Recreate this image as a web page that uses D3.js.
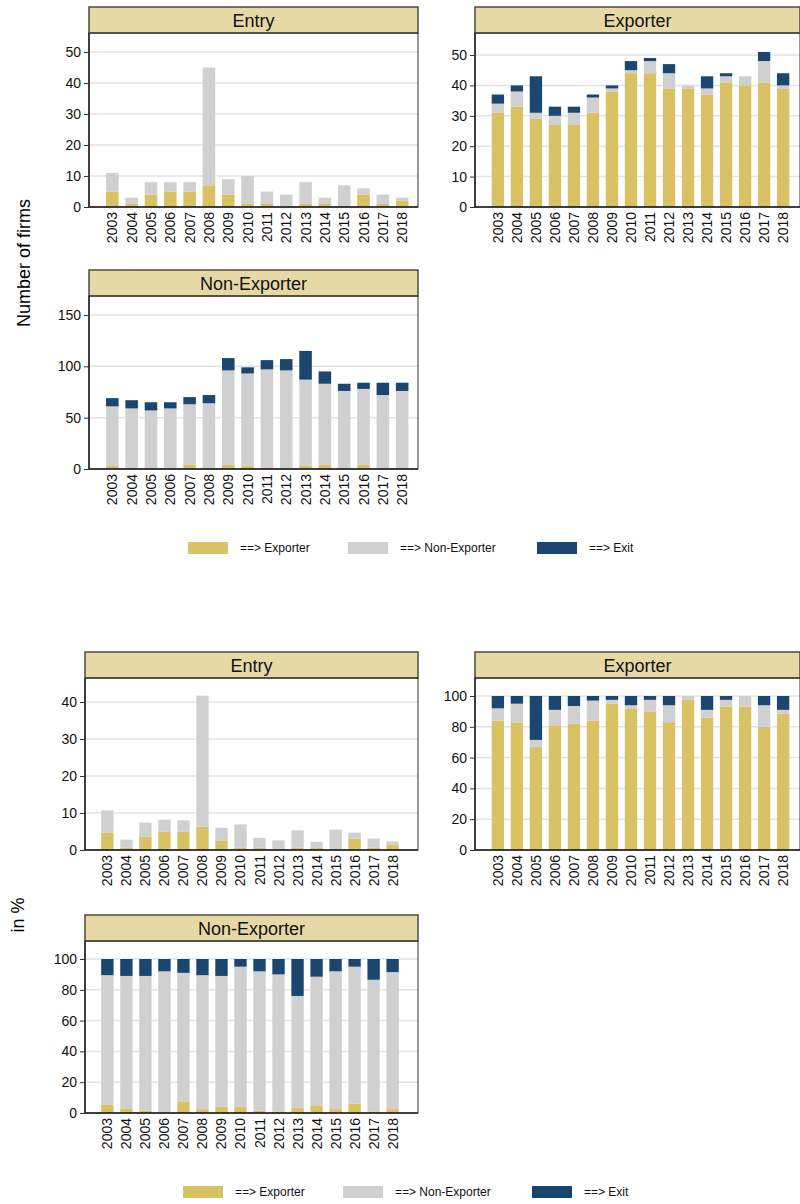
<!DOCTYPE html>
<html><head><meta charset="utf-8">
<script src="https://cdn.jsdelivr.net/npm/d3@7"></script>
<style>body{margin:0;background:#fff}svg{font-family:"Liberation Sans",Arial,sans-serif}</style>
</head><body><svg id="c" width="800" height="1204"></svg>
<script>
const years = d3.range(2003, 2019).map(String);
// Counts
const entryExp = [5,1,4,5,5,7,4,1,1,0,1,1,0,4,1,2];
const entryNon = [6,2,4,3,3,38,5,9,4,4,7,2,7,2,3,1];
const entryExit = new Array(16).fill(0);
const expExp = [31,33,29,27,27,31,38,44,44,39,39,37,41,40,41,39];
const expNon = [3,5,2,3,4,5,1,1,4,5,1,2,2,3,7,1];
const expExit = [3,2,12,3,2,1,1,3,1,3,0,4,1,0,3,4];
const nonExp = [3,1,0,0,4,1,4,3,1,0,3,4,1,4,0,1];
const nonNon = [58,58,57,59,59,63,92,90,96,96,84,79,75,74,72,75];
const nonExit = [8,8,8,6,7,8,12,6,9,11,28,12,7,6,12,8];
// Percent
const pEntryExp = [4.7,0.6,3.6,4.9,4.9,6.3,2.6,0.6,0.6,0,0.6,0.6,0,3.1,0.6,1.5];
const pEntryNon = [6.0,2.2,3.8,3.3,3.1,35.4,3.4,6.3,2.7,2.6,4.7,1.6,5.5,1.6,2.5,0.8];
const pEntryExit = new Array(16).fill(0);
const pExpExp = [84,82.5,67,81,82,84,95,92,90,83,97.5,86,93,93,80,88.5];
const pExpNon = [8,12.5,4.5,10,11.5,13,2.5,2,7.5,11,2.5,5,4.5,7,14,2.5];
const pExpExit = [8,5,28.5,9,6.5,3,2.5,6,2.5,6,0,9,2.5,0,6,9];
const pNonExp = [5.5,3,1.5,0,7.5,2.5,4,4,1.5,1,3.5,5,2.5,6,1,2.5];
const pNonNon = [84,86,87.5,92,83.5,87,85,91,90.5,89,72.5,83.5,89.5,89,85.5,89];
const pNonExit = [10.5,11,11,8,9,10.5,11,5,8,10,24,11.5,8,5,13.5,8.5];
const countTicks = {entry:[0,10,20,30,40,50], exp:[0,10,20,30,40,50], non:[0,50,100,150]};
const pctTicks = {entry:[0,10,20,30,40], exp:[0,20,40,60,80,100], non:[0,20,40,60,80,100]};
const legendLabels = ["==> Exporter","==> Non-Exporter","==> Exit"];
const colors = ["#d9c264","#d0d0d0","#1b4670"];

const svg = d3.select("#c");

function panel(o){
  const g = svg.append("g");
  const y = d3.scaleLinear().domain([0,o.max]).range([o.zero,o.top]);
  const x = d3.scaleBand().domain(years).range([o.c0 - o.step/2, o.c0 + 15.5*o.step]).paddingInner(0.35);
  g.append("rect").attr("x",o.l).attr("y",o.htop).attr("width",o.r-o.l).attr("height",o.top-o.htop)
    .attr("fill","#e6d9a6").attr("stroke","#4d4a3c").attr("stroke-width",1.5);
  g.append("text").attr("x",(o.l+o.r)/2).attr("y",o.htop+(o.top-o.htop)/2+6.5).attr("text-anchor","middle")
    .attr("font-size",18).attr("fill","#111").text(o.title);
  o.ticks.forEach(t=>{ if(t>0) g.append("line").attr("x1",o.l).attr("x2",o.r).attr("y1",y(t)).attr("y2",y(t))
    .attr("stroke","#e3e3e3").attr("stroke-width",1.5);});
  const series=[o.a,o.b,o.c];
  years.forEach((yr,i)=>{
    let base=0;
    series.forEach((s,k)=>{
      const v=s[i]; if(v>0){
        g.append("rect").attr("x",x(yr)).attr("width",x.bandwidth())
          .attr("y",y(base+v)).attr("height",y(base)-y(base+v)).attr("fill",colors[k]);
      }
      base+=v;
    });
  });
  g.append("rect").attr("x",o.l).attr("y",o.top).attr("width",o.r-o.l).attr("height",o.zero-o.top)
    .attr("fill","none").attr("stroke","#333").attr("stroke-width",1);
  g.append("line").attr("x1",o.l).attr("x2",o.l).attr("y1",o.top).attr("y2",o.zero).attr("stroke","#222").attr("stroke-width",1.5);
  g.append("line").attr("x1",o.l).attr("x2",o.r).attr("y1",o.zero).attr("y2",o.zero).attr("stroke","#222").attr("stroke-width",1.5);
  const ya = g.append("g").attr("transform",`translate(${o.l},0)`)
    .call(d3.axisLeft(y).tickValues(o.ticks).tickSize(5).tickPadding(3));
  ya.select(".domain").remove();
  ya.selectAll("text").attr("font-size",14).attr("fill","#111").attr("font-family","Liberation Sans, Arial");
  ya.selectAll("line").attr("stroke","#333");
  years.forEach(yr=>{
    g.append("text").attr("transform",`translate(${x(yr)+x.bandwidth()/2+5},${o.zero+5}) rotate(-90)`)
      .attr("text-anchor","end").attr("font-size",14).attr("fill","#111").text(yr);
  });
}
function legend(yc,x0s){
  legendLabels.forEach((t,i)=>{
    svg.append("rect").attr("x",x0s[i]).attr("y",yc-6).attr("width",40).attr("height",12).attr("fill",colors[i]);
    svg.append("text").attr("x",x0s[i]+52).attr("y",yc+4).attr("font-size",12).attr("fill","#111").text(t);
  });
}
panel({title:"Entry",l:89,r:418,htop:7,top:33,zero:207,max:(207-33)/3.1,c0:115.5,step:18.9,ticks:countTicks.entry,a:entryExp,b:entryNon,c:entryExit});
panel({title:"Exporter",l:475,r:800,htop:7,top:33,zero:207,max:(207-33)/3.04,c0:501,step:18.6,ticks:countTicks.exp,a:expExp,b:expNon,c:expExit});
panel({title:"Non-Exporter",l:89,r:418,htop:270,top:296,zero:469,max:(469-296)/1.027,c0:115.5,step:18.9,ticks:countTicks.non,a:nonExp,b:nonNon,c:nonExit});
legend(548,[188,348,537]);
svg.append("text").attr("transform","translate(30,263) rotate(-90)").attr("text-anchor","middle").attr("font-size",18).text("Number of firms");
panel({title:"Entry",l:85,r:418,htop:652,top:678,zero:850,max:(850-678)/3.7,c0:110.5,step:18.6,ticks:pctTicks.entry,a:pEntryExp,b:pEntryNon,c:pEntryExit});
panel({title:"Exporter",l:475,r:800,htop:652,top:678,zero:850,max:(850-678)/1.54,c0:501,step:18.6,ticks:pctTicks.exp,a:pExpExp,b:pExpNon,c:pExpExit});
panel({title:"Non-Exporter",l:85,r:418,htop:915,top:941,zero:1113,max:(1113-941)/1.54,c0:110.5,step:18.6,ticks:pctTicks.non,a:pNonExp,b:pNonNon,c:pNonExit});
legend(1192,[183,343,532]);
svg.append("text").attr("transform","translate(24,915) rotate(-90)").attr("text-anchor","middle").attr("font-size",18).text("in %");
</script></body></html>
